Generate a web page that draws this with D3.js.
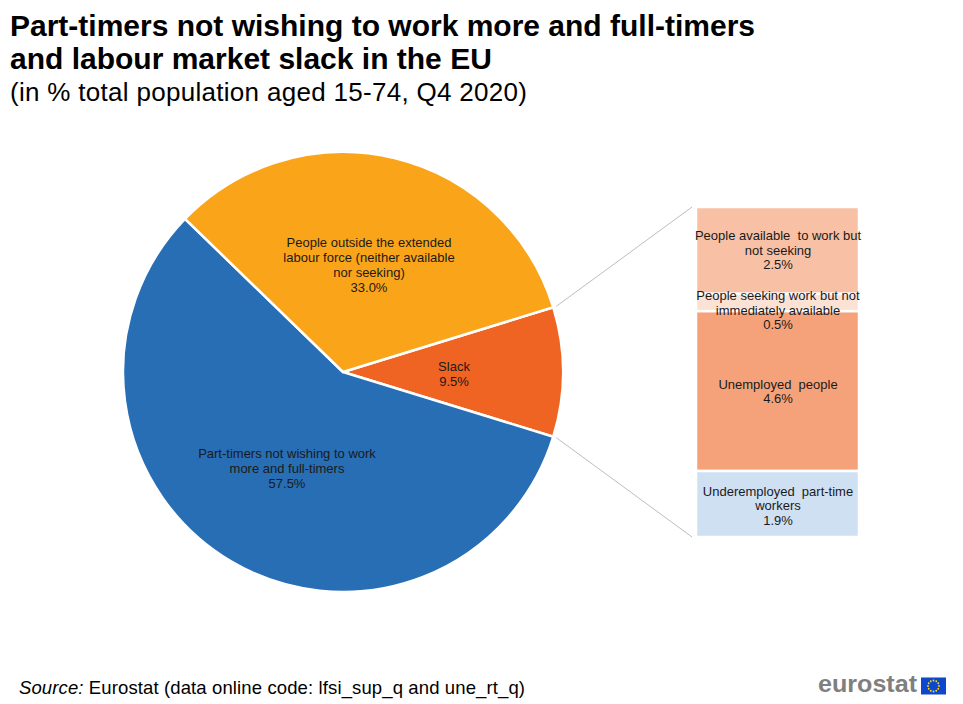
<!DOCTYPE html>
<html><head><meta charset="utf-8">
<script src="https://cdn.jsdelivr.net/npm/d3@7"></script>
<style>body{margin:0;background:#fff}svg{display:block;font-family:"Liberation Sans",Arial,sans-serif}text{white-space:pre}</style>
</head><body><svg id="c" width="963" height="704"></svg>
<script>
const pieCategories = ["Slack", "Part-timers not wishing to work more and full-timers", "People outside the extended labour force (neither available nor seeking)"];
const pieValues = [9.5, 57.5, 33.0];
const pieColors = ["#F06423", "#286EB4", "#FAA519"];
const pieLabelLines = [["Slack", "9.5%"], ["Part-timers not wishing to work", "more and full-timers", "57.5%"], ["People outside the extended", "labour force (neither available", "nor seeking)", "33.0%"]];
const barCategories = ["People available to work but not seeking", "People seeking work but not immediately available", "Unemployed people", "Underemployed part-time workers"];
const barValues = [2.5, 0.5, 4.6, 1.9];
const barColors = ["#F8C1A6", "#FCE2D5", "#F5A27A", "#CFE0F3"];
const barLabelLines = [["People available  to work but", "not seeking", "2.5%"], ["People seeking work but not", "immediately available", "0.5%"], ["Unemployed  people", "4.6%"], ["Underemployed  part-time", "workers", "1.9%"]];

const svg = d3.select("#c");
// Titles
svg.append("text").attr("x", 10).attr("y", 36).attr("font-size", 30).attr("font-weight", "bold").attr("fill", "#000").attr("textLength", 745).text("Part-timers not wishing to work more and full-timers");
svg.append("text").attr("x", 10).attr("y", 69).attr("font-size", 30).attr("font-weight", "bold").attr("fill", "#000").text("and labour market slack in the EU");
svg.append("text").attr("x", 10).attr("y", 101).attr("font-size", 26).attr("fill", "#000").attr("textLength", 517).text("(in % total population aged 15-74, Q4 2020)");

// Pie
const cx = 343, cy = 372, R = 220;
const total = d3.sum(pieValues);
const slackAngle = pieValues[0] / total * 2 * Math.PI;
const pie = d3.pie().sort(null).value(d => d)
  .startAngle(Math.PI / 2 - slackAngle / 2).endAngle(Math.PI / 2 - slackAngle / 2 + 2 * Math.PI);
const arcs = pie(pieValues);
const arc = d3.arc().innerRadius(0).outerRadius(R);
const g = svg.append("g").attr("transform", `translate(${cx},${cy})`);
g.selectAll("path").data(arcs).join("path").attr("d", arc)
  .attr("fill", (d, i) => pieColors[i]).attr("stroke", "#fff").attr("stroke-width", 2.5).attr("stroke-linejoin", "round");

const pieLabelPos = [[111, 1.5], [-56, 96], [26, -107.5]];
arcs.forEach((a, i) => {
  const lines = pieLabelLines[i];
  const t = g.append("text").attr("text-anchor", "middle").attr("font-size", 13).attr("fill", "#1a1a1a");
  const lh = 15;
  const y0 = pieLabelPos[i][1] - (lines.length - 1) * lh / 2 + 4.5;
  lines.forEach((l, j) => t.append("tspan").attr("x", pieLabelPos[i][0]).attr("y", y0 + j * lh).text(l));
});

// Bar
const bx = 696, bw = 163, by0 = 207, by1 = 537;
const y = d3.scaleLinear().domain([0, d3.sum(barValues)]).range([by0, by1]);
let cum = 0;
const segs = barValues.map((v, i) => { const s = { i, v, a: cum, b: cum + v }; cum += v; return s; });
const bg = svg.append("g");
bg.selectAll("rect").data(segs).join("rect")
  .attr("x", bx).attr("width", bw)
  .attr("y", d => y(d.a)).attr("height", d => y(d.b) - y(d.a))
  .attr("fill", d => barColors[d.i]).attr("stroke", "#fff").attr("stroke-width", 2.5);
const barLabelCenter = [250, 310, 391.5, 505.5];
segs.forEach(d => {
  const lines = barLabelLines[d.i];
  const lh = 14.5;
  const y0 = barLabelCenter[d.i] - (lines.length - 1) * lh / 2 + 4.5;
  const t = bg.append("text").attr("text-anchor", "middle").attr("font-size", 13).attr("fill", "#1a1a1a");
  lines.forEach((l, j) => t.append("tspan").attr("x", bx + bw / 2 + 0.5).attr("y", y0 + j * lh).text(l));
});

// connector lines
const a0 = arcs[0];
const p1 = [cx + (R + 3) * Math.sin(a0.startAngle), cy - (R + 3) * Math.cos(a0.startAngle)];
const p2 = [cx + (R + 3) * Math.sin(a0.endAngle), cy - (R + 3) * Math.cos(a0.endAngle)];
svg.append("line").attr("x1", p1[0]).attr("y1", p1[1]).attr("x2", bx - 4).attr("y2", by0).attr("stroke", "#bdbdbd").attr("stroke-width", 1);
svg.append("line").attr("x1", p2[0]).attr("y1", p2[1]).attr("x2", bx - 4).attr("y2", by1).attr("stroke", "#bdbdbd").attr("stroke-width", 1);

// Source
const src = svg.append("text").attr("x", 19).attr("y", 694).attr("font-size", 18.5).attr("fill", "#000").attr("textLength", 506);
src.append("tspan").attr("font-style", "italic").text("Source:");
src.append("tspan").text(" Eurostat (data online code: lfsi_sup_q and une_rt_q)");

// Logo
svg.append("text").attr("x", 818).attr("y", 692).attr("font-size", 24).attr("font-weight", "bold").attr("fill", "#7f7f7f").attr("textLength", 99).attr("lengthAdjust", "spacingAndGlyphs").text("eurostat");
svg.append("rect").attr("x", 921).attr("y", 677.5).attr("width", 25).attr("height", 17).attr("fill", "#0E47CB");
const stars = d3.range(12).map(k => k * Math.PI / 6);
svg.append("g").selectAll("circle").data(stars).join("circle")
  .attr("cx", d => 933.5 + 5.5 * Math.cos(d)).attr("cy", d => 686 + 5.5 * Math.sin(d)).attr("r", 0.9).attr("fill", "#FFDD00");
</script></body></html>
